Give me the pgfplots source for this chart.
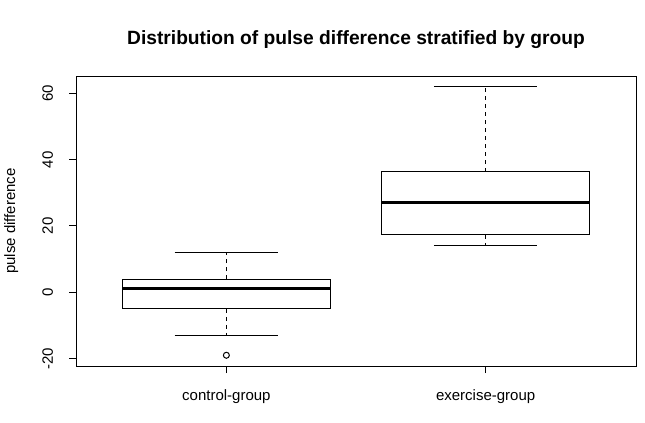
\documentclass[border=0pt]{standalone}
\usepackage{fontspec}
\setmainfont{Liberation Sans}
\usepackage{pgfplots}
\pgfplotsset{compat=1.18}
\usepgfplotslibrary{statistics}

\begin{document}
\begin{tikzpicture}
% 1px = 0.75pt, picture 645x422 px
\path[use as bounding box] (0,0) rectangle (483.75pt,316.5pt);
\begin{axis}[
    at={(57pt,42pt)}, anchor=south west,
    scale only axis,
    width=420pt, height=217.5pt,
    xmin=0.42, xmax=2.58,
    ymin=-22.24, ymax=65.24,
    xtick={1,2},
    xticklabels={control-group,exercise-group},
    ytick={-20,0,20,40,60},
    tick pos=left,
    tick align=outside,
    major tick length=5.25pt,
    axis line style={line width=0.75pt},
    every tick/.style={black,line width=0.75pt},
    /pgf/number format/assume math mode=true,
    tick label style={font=\fontsize{11.25}{13.5}\selectfont, inner sep=0pt},
    yticklabel style={rotate=90, anchor=base},
    xticklabel style={anchor=base},
    yticklabel shift=12pt,
    xticklabel shift=20.6pt,
    boxplot/draw direction=y,
    boxplot/box extend=0.8,
    boxplot/whisker extend=0.4,
    boxplot/every median/.style={line width=2.25pt},
    boxplot/draw/lower whisker/.code={
        \draw[dash pattern=on 3pt off 3pt]
          (boxplot box cs:\pgfplotsboxplotvalue{lower quartile},0.5) --
          (boxplot box cs:\pgfplotsboxplotvalue{lower whisker},0.5);
        \draw (boxplot whisker cs:\pgfplotsboxplotvalue{lower whisker},0) --
          (boxplot whisker cs:\pgfplotsboxplotvalue{lower whisker},1);
    },
    boxplot/draw/upper whisker/.code={
        \draw[dash pattern=on 3pt off 3pt]
          (boxplot box cs:\pgfplotsboxplotvalue{upper quartile},0.5) --
          (boxplot box cs:\pgfplotsboxplotvalue{upper whisker},0.5);
        \draw (boxplot whisker cs:\pgfplotsboxplotvalue{upper whisker},0) --
          (boxplot whisker cs:\pgfplotsboxplotvalue{upper whisker},1);
    },
]
% control-group
\addplot[black, line width=0.75pt, mark=o, mark size=2.25pt,
    mark options={solid, line width=0.75pt},
    boxplot prepared={draw position=1,
        lower whisker=-13, lower quartile=-5, median=1,
        upper quartile=4, upper whisker=12}]
    coordinates {(0,-19)};
% exercise-group
\addplot[black, line width=0.75pt,
    boxplot prepared={draw position=2,
        lower whisker=14, lower quartile=17.3, median=27,
        upper quartile=36.4, upper whisker=62}]
    coordinates {};
\end{axis}
\node[anchor=base, font=\bfseries\fontsize{14.4}{17}\selectfont, inner sep=0pt]
    at (267pt,282.75pt) {Distribution of pulse difference stratified by group};
\node[anchor=base, rotate=90, font=\fontsize{11.25}{13.5}\selectfont, inner sep=0pt]
    at (11.25pt,150.75pt) {pulse difference};
\end{tikzpicture}
\end{document}
